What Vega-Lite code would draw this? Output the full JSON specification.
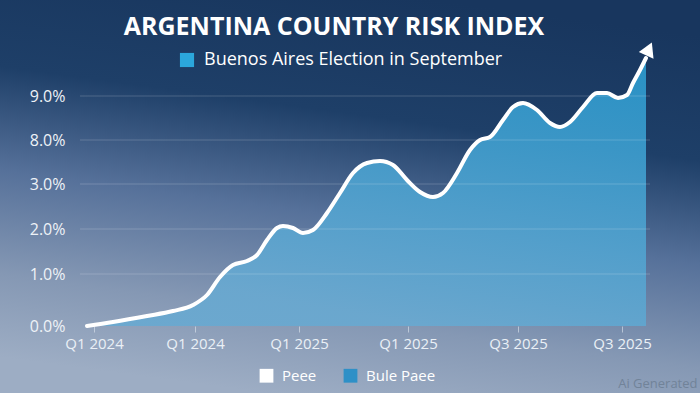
{
  "$schema": "https://vega.github.io/schema/vega-lite/v6.json",
  "width": 700,
  "height": 393,
  "autosize": {"type": "none"},
  "padding": 0,
  "background": "#5d7799",
  "view": {
    "stroke": null,
    "fill": {
      "gradient": "linear",
      "x1": 0.62, "y1": 0, "x2": 0.38, "y2": 1,
      "stops": [
        {"offset": 0, "color": "#18365e"},
        {"offset": 0.3, "color": "#1e3f68"},
        {"offset": 0.55, "color": "#56719a"},
        {"offset": 0.8, "color": "#8598b4"},
        {"offset": 1, "color": "#9dadc4"}
      ]
    }
  },
  "title": {
    "text": "ARGENTINA COUNTRY RISK INDEX",
    "orient": "top",
    "anchor": "middle",
    "frame": "group",
    "offset": -60,
    "dx": -16,
    "baseline": "alphabetic",
    "font": "Open Sans",
    "fontSize": 25,
    "fontWeight": 700,
    "color": "#ffffff"
  },
  "datasets": {
    "risk": [
      {"t": 0.7, "v": 0.0}, {"t": 3.3, "v": 0.4}, {"t": 6.7, "v": 1.0}, {"t": 9.3, "v": 1.5},
      {"t": 11.3, "v": 2.1}, {"t": 12.7, "v": 3.1}, {"t": 14.0, "v": 4.9}, {"t": 15.3, "v": 6.1},
      {"t": 16.7, "v": 6.5}, {"t": 17.7, "v": 7.1}, {"t": 18.7, "v": 8.6}, {"t": 19.7, "v": 9.8},
      {"t": 20.3, "v": 10.0}, {"t": 21.3, "v": 9.8}, {"t": 22.3, "v": 9.3}, {"t": 23.3, "v": 9.6},
      {"t": 24.7, "v": 11.3}, {"t": 26.0, "v": 13.3}, {"t": 27.3, "v": 15.3}, {"t": 28.7, "v": 16.3},
      {"t": 30.0, "v": 16.5}, {"t": 31.3, "v": 16.1}, {"t": 32.7, "v": 14.6}, {"t": 34.0, "v": 13.4},
      {"t": 35.3, "v": 12.9}, {"t": 36.3, "v": 13.3}, {"t": 37.7, "v": 15.3}, {"t": 39.0, "v": 17.6},
      {"t": 40.0, "v": 18.6}, {"t": 41.0, "v": 18.9}, {"t": 42.3, "v": 20.6}, {"t": 43.3, "v": 21.9},
      {"t": 44.3, "v": 22.3}, {"t": 45.7, "v": 21.6}, {"t": 47.0, "v": 20.3}, {"t": 48.0, "v": 19.9},
      {"t": 49.0, "v": 20.4}, {"t": 50.3, "v": 21.9}, {"t": 51.7, "v": 23.3}, {"t": 52.7, "v": 23.3},
      {"t": 53.8, "v": 22.8}, {"t": 54.7, "v": 23.1}, {"t": 55.3, "v": 24.3}, {"t": 56.0, "v": 25.6},
      {"t": 56.6, "v": 26.8}
    ],
    "grid": [{"g": 5.2}, {"g": 9.7}, {"g": 14.2}, {"g": 18.6}, {"g": 23.0}],
    "arrow": [{"t": 56.9, "v": 27.7}],
    "event": [{"label": "Buenos Aires Election  in September"}],
    "series": [{"s": "Peee"}, {"s": "Bule Paee"}]
  },
  "layer": [
    {
      "data": {"name": "risk"},
      "mark": {
        "type": "area",
        "interpolate": "monotone",
        "opacity": 0.9,
        "fill": {
          "gradient": "linear",
          "x1": 1, "y1": 0, "x2": 0.6, "y2": 1,
          "stops": [
            {"offset": 0, "color": "#2a9bd0"},
            {"offset": 1, "color": "#68a9d1"}
          ]
        }
      },
      "encoding": {
        "x": {
          "field": "t", "type": "quantitative",
          "scale": {"domain": [-8, 62], "nice": false, "zero": false},
          "axis": {
            "orient": "bottom",
            "offset": -67,
            "values": [1.4, 11.5, 21.9, 32.8, 43.8, 54.2],
            "labelExpr": "datum.value < 5 ? 'Q1 2024' : datum.value < 15 ? 'Q1 2024' : datum.value < 40 ? 'Q1 2025' : 'Q3 2025'",
            "grid": false,
            "domain": false,
            "ticks": true,
            "tickSize": 6,
            "tickColor": "#dfe7f0",
            "tickOpacity": 0.6,
            "labelPadding": 4,
            "labelFont": "Open Sans",
            "labelFontSize": 15,
            "labelColor": "#eaf0f6",
            "labelFlush": false,
            "labelOverlap": false,
            "title": "Ai Generated",
            "titleX": 697,
            "titleY": 61,
            "titleAlign": "right",
            "titleAnchor": null,
            "titleBaseline": "alphabetic",
            "titleFont": "Open Sans",
            "titleFontSize": 13,
            "titleFontWeight": 400,
            "titleColor": "#718399"
          }
        },
        "y": {
          "field": "v", "type": "quantitative",
          "scale": {"domain": [-6.7, 32.6], "nice": false, "zero": false},
          "axis": {
            "orient": "left",
            "offset": -80,
            "values": [0, 5.2, 9.7, 14.2, 18.6, 23.0],
            "labelExpr": "datum.value < 1 ? '0.0%' : datum.value < 7 ? '1.0%' : datum.value < 12 ? '2.0%' : datum.value < 16 ? '3.0%' : datum.value < 20 ? '8.0%' : '9.0%'",
            "grid": false,
            "domain": false,
            "ticks": false,
            "labelPadding": 15,
            "labelFont": "Open Sans",
            "labelFontSize": 16,
            "labelColor": "#eef2f7",
            "labelFlush": false,
            "labelOverlap": false,
            "title": null
          }
        },
        "y2": {"datum": 0}
      }
    },
    {
      "data": {"name": "grid"},
      "mark": {"type": "rule", "color": "#ffffff", "opacity": 0.18, "strokeWidth": 1},
      "encoding": {
        "x": {"datum": 0, "type": "quantitative"},
        "x2": {"datum": 57},
        "y": {"field": "g", "type": "quantitative"}
      }
    },
    {
      "data": {"name": "risk"},
      "mark": {"type": "line", "interpolate": "monotone", "color": "#ffffff", "strokeWidth": 4, "strokeCap": "round", "strokeJoin": "round"},
      "encoding": {
        "x": {"field": "t", "type": "quantitative"},
        "y": {"field": "v", "type": "quantitative"}
      }
    },
    {
      "data": {"name": "arrow"},
      "mark": {"type": "point", "shape": "triangle-up", "filled": true, "color": "#ffffff", "opacity": 1, "size": 260, "angle": 24},
      "encoding": {
        "x": {"field": "t", "type": "quantitative"},
        "y": {"field": "v", "type": "quantitative"}
      }
    },
    {
      "data": {"name": "event"},
      "mark": {"type": "square", "opacity": 0},
      "encoding": {
        "color": {
          "field": "label", "type": "nominal",
          "scale": {"range": ["#2ba7dc"]},
          "legend": {
            "orient": "none",
            "legendX": 178,
            "legendY": 51,
            "title": null,
            "symbolType": "square",
            "symbolSize": 200,
            "symbolOpacity": 1,
            "symbolStrokeWidth": 0,
            "labelFont": "Open Sans",
            "labelFontSize": 18,
            "labelColor": "#ffffff",
            "labelOffset": 8,
            "labelLimit": 500
          }
        }
      }
    },
    {
      "data": {"name": "series"},
      "mark": {"type": "square", "opacity": 0},
      "encoding": {
        "color": {
          "field": "s", "type": "nominal",
          "scale": {"domain": ["Peee", "Bule Paee"], "range": ["#ffffff", "#2e90c7"]},
          "legend": {
            "orient": "none",
            "direction": "horizontal",
            "legendX": 259,
            "legendY": 368,
            "title": null,
            "symbolType": "square",
            "symbolSize": 190,
            "symbolOpacity": 1,
            "symbolStrokeWidth": 0,
            "labelFont": "Open Sans",
            "labelFontSize": 15,
            "labelColor": "#ffffff",
            "labelOffset": 8,
            "columnPadding": 26
          }
        }
      }
    }
  ],
  "resolve": {"scale": {"color": "independent"}, "legend": {"color": "independent"}}
}
